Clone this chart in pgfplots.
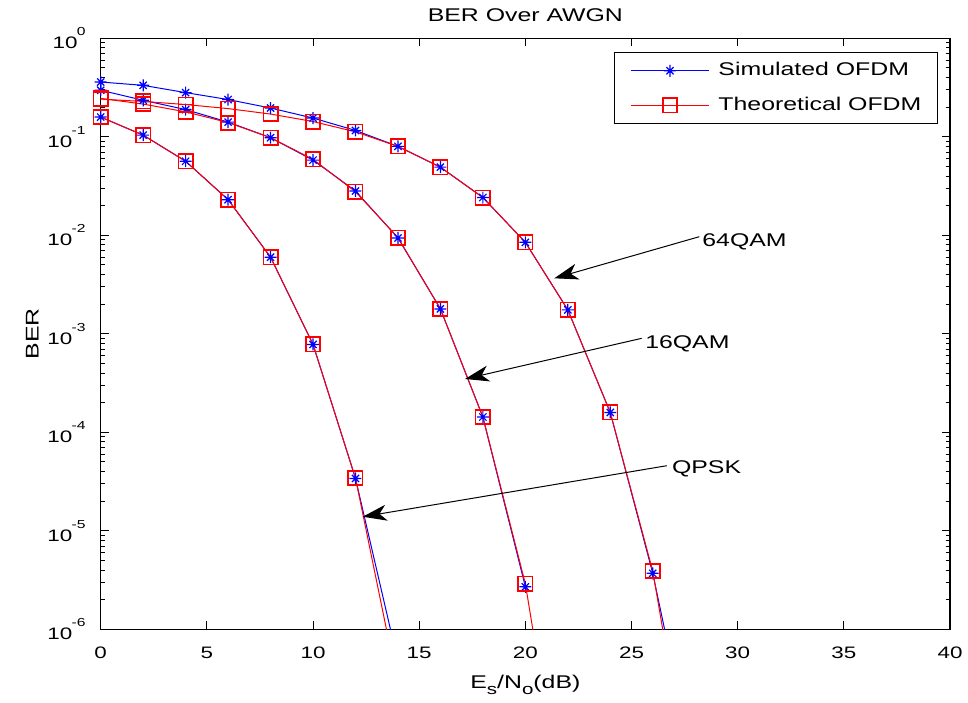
\documentclass[border=0pt]{standalone}
\usepackage{fontspec}
\setmainfont{Liberation Sans}[FakeStretch=1.35]
\usepackage{pgfplots}
\pgfplotsset{compat=1.18}
\usetikzlibrary{arrows.meta}

\pgfdeclareplotmark{mstar}{%
 \pgfpathmoveto{\pgfqpoint{0pt}{\pgfplotmarksize}}\pgfpathlineto{\pgfqpoint{0pt}{-\pgfplotmarksize}}%
 \pgfpathmoveto{\pgfqpoint{\pgfplotmarksize}{0pt}}\pgfpathlineto{\pgfqpoint{-\pgfplotmarksize}{0pt}}%
 \pgfpathmoveto{\pgfqpoint{.6\pgfplotmarksize}{.6\pgfplotmarksize}}\pgfpathlineto{\pgfqpoint{-.6\pgfplotmarksize}{-.6\pgfplotmarksize}}%
 \pgfpathmoveto{\pgfqpoint{-.6\pgfplotmarksize}{.6\pgfplotmarksize}}\pgfpathlineto{\pgfqpoint{.6\pgfplotmarksize}{-.6\pgfplotmarksize}}%
 \pgfusepathqstroke}

\newcommand\supten[1]{10\kern-0.3pt\raisebox{6.5pt}{\fontsize{5.8}{6}\selectfont #1}}
\newcommand\tickfont{\fontsize{8.3}{10}\selectfont}
\newcommand\labfont{\fontsize{9.2}{11}\selectfont}
\newcommand\sub[1]{\raisebox{-3.2pt}{\fontsize{7.6}{8}\selectfont #1}}

\begin{document}
\begin{tikzpicture}
\begin{axis}[
  scale only axis, width=424.65pt, height=295.5pt,
  xmin=0, xmax=40, ymode=log, ymin=1e-6, ymax=1,
  clip=true,
  xtick={0,5,10,15,20,25,30,35,40},
  xticklabels={0,5,10,15,20,25,30,35,40},
  ytick={1e-6,1e-5,1e-4,1e-3,1e-2,1e-1,1},
  yticklabels={\supten{-6},\supten{-5},\supten{-4},\supten{-3},\supten{-2},\supten{-1},\supten{0}},
  minor ytick={2e-6,3e-6,4e-6,5e-6,6e-6,7e-6,8e-6,9e-6,
    2e-5,3e-5,4e-5,5e-5,6e-5,7e-5,8e-5,9e-5,
    2e-4,3e-4,4e-4,5e-4,6e-4,7e-4,8e-4,9e-4,
    2e-3,3e-3,4e-3,5e-3,6e-3,7e-3,8e-3,9e-3,
    2e-2,3e-2,4e-2,5e-2,6e-2,7e-2,8e-2,9e-2,
    0.2,0.3,0.4,0.5,0.6,0.7,0.8,0.9},
  minor xtick={},
  tick align=inside,
  major tick length=4pt, minor tick length=2pt,
  every tick/.style={black, line width=0.5pt},
  axis line style={black, line width=0.7pt},
  xticklabel style={font=\tickfont, yshift=-5.5pt},
  yticklabel style={font=\tickfont, xshift=-4pt},
  every axis title shift=0pt,
  title={BER Over AWGN},
  title style={font=\labfont, at={(rel axis cs:0.5,1)}, anchor=base, yshift=8.3pt},
  xlabel={E\sub{s}/N\sub{o}(dB)},
  xlabel style={font=\labfont, at={(rel axis cs:0.5,0)}, anchor=base, yshift=-29.5pt},
  legend style={at={(rel axis cs:1,1)}, anchor=north east, xshift=-6pt, yshift=-6.85pt,
    draw=black, line width=0.6pt, font=\labfont, inner xsep=8pt, inner ysep=5pt,
    nodes={inner sep=0pt}, row sep=9pt},
  legend cell align=left,
  /tikz/every odd column/.append style={column sep=4.5pt},
  legend image code/.code={\draw[#1] (0pt,0pt) -- (39pt,0pt); \draw[#1] plot coordinates {(19.5pt,0pt)};},
]
\addlegendimage{blue, line width=0.5pt, mark=mstar, mark size=3pt, mark options={solid, line width=0.6pt}}
\addlegendentry{Simulated OFDM}
\addlegendimage{red, line width=0.5pt, mark=square, mark size=3.6pt, mark options={solid, line width=0.8pt}}
\addlegendentry{Theoretical OFDM}

% simulated
\addplot[blue, line width=0.5pt, mark=mstar, mark size=3pt, mark options={line width=0.6pt}, forget plot] coordinates {
 (0,0.1587)(2,0.104)(4,0.0565)(6,0.023)(8,0.0060)(10,7.8e-4)(12,3.4e-5)(14,4.7e-7)};
\addplot[blue, line width=0.5pt, mark=mstar, mark size=3pt, mark options={line width=0.6pt}, forget plot] coordinates {
 (0,0.297)(2,0.235)(4,0.189)(6,0.141)(8,0.098)(10,0.058)(12,0.0282)(14,0.0094)(16,0.00179)(18,1.43e-4)(20,2.7e-6)};
\addplot[blue, line width=0.5pt, mark=mstar, mark size=3pt, mark options={line width=0.6pt}, forget plot] coordinates {
 (0,0.360)(2,0.333)(4,0.281)(6,0.239)(8,0.196)(10,0.155)(12,0.116)(14,0.080)(16,0.0492)(18,0.0242)(20,0.00849)(22,0.00175)(24,1.59e-4)(26,3.7e-6)(28,3.4e-8)};
% theoretical
\addplot[red, line width=0.5pt, mark=square, mark size=3.6pt, mark options={line width=0.8pt}, forget plot] coordinates {
 (0,0.15866)(2,0.1040)(4,0.0565)(6,0.0230)(8,0.00600)(10,7.83e-4)(12,3.43e-5)(14,2.69e-7)};
\addplot[red, line width=0.5pt, mark=square, mark size=3.6pt, mark options={line width=0.8pt}, forget plot] coordinates {
 (0,0.2455)(2,0.2150)(4,0.1793)(6,0.1396)(8,0.0980)(10,0.0590)(12,0.0277)(14,0.00950)(16,0.00179)(18,1.43e-4)(20,2.90e-6)(22,6.75e-9)};
\addplot[red, line width=0.5pt, mark=square, mark size=3.6pt, mark options={line width=0.8pt}, forget plot] coordinates {
 (0,0.2413)(2,0.2285)(4,0.2127)(6,0.1934)(8,0.1702)(10,0.1430)(12,0.1123)(14,0.0799)(16,0.0492)(18,0.0242)(20,0.00849)(22,0.00175)(24,1.59e-4)(26,3.90e-6)(28,1.2e-8)};

% annotations
\draw[black, line width=0.5pt, -{Stealth[length=12pt,width=8pt,inset=3.5pt]}] (axis cs:28.19,9.68e-3) -- (axis cs:21.36,3.66e-3);
\draw[black, line width=0.5pt, -{Stealth[length=12pt,width=8pt,inset=3.5pt]}] (axis cs:25.48,9.0e-4) -- (axis cs:17.16,3.48e-4);
\draw[black, line width=0.5pt, -{Stealth[length=12pt,width=8pt,inset=3.5pt]}] (axis cs:26.66,4.58e-5) -- (axis cs:12.34,1.39e-5);
\node[anchor=base west, inner sep=0pt, font=\labfont] at (axis cs:28.32,7.78e-3) {64QAM};
\node[anchor=base west, inner sep=0pt, font=\labfont] at (axis cs:25.63,7.13e-4) {16QAM};
\node[anchor=base west, inner sep=0pt, font=\labfont] at (axis cs:26.89,3.78e-5) {QPSK};
\end{axis}
\node[rotate=90, anchor=base, inner sep=0pt, font=\labfont] at ([xshift=-31pt]current axis.west) {BER};
\pgfresetboundingbox
\path[use as bounding box] (current axis.south west) ++(-50.35pt,-36.35pt) rectangle ++(484pt,351pt);
\end{tikzpicture}
\end{document}
